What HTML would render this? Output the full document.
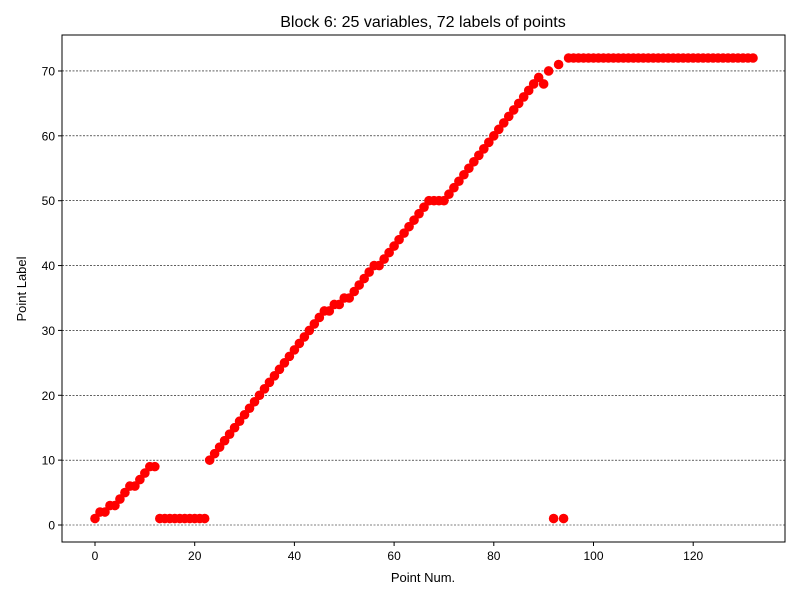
<!DOCTYPE html>
<html><head><meta charset="utf-8"><style>
body{margin:0;background:#fff;font-family:"Liberation Sans","DejaVu Sans",sans-serif}
</style></head><body>
<svg id="chart" width="800" height="600" xmlns="http://www.w3.org/2000/svg">
<rect width="800" height="600" fill="#fff"/>
<text x="423" y="27" font-size="16" text-anchor="middle">Block 6: 25 variables, 72 labels of points</text>
<g id="grid"></g><g id="ticks"></g><g id="points"></g>
<rect x="62" y="35" width="723" height="507" fill="none" stroke="#000" stroke-width="1"/>
<text x="423" y="582" font-size="13" text-anchor="middle">Point Num.</text>
<text x="26" y="289" font-size="13" text-anchor="middle" transform="rotate(-90 26 289)">Point Label</text>
</svg>
<script>
const labels=[1,2,2,3,3,4,5,6,6,7,8,9,9,1,1,1,1,1,1,1,1,1,1,10,11,12,13,14,15,16,17,18,19,20,21,22,23,24,25,26,27,28,29,30,31,32,33,33,34,34,35,35,36,37,38,39,40,40,41,42,43,44,45,46,47,48,49,50,50,50,50,51,52,53,54,55,56,57,58,59,60,61,62,63,64,65,66,67,68,69,68,70,1,71,1,72,72,72,72,72,72,72,72,72,72,72,72,72,72,72,72,72,72,72,72,72,72,72,72,72,72,72,72,72,72,72,72,72,72,72,72,72,72];
const xTicks=[0,20,40,60,80,100,120];
const yTicks=[0,10,20,30,40,50,60,70];
const NS="http://www.w3.org/2000/svg";
function xs(v){return 95+v*4.985;}
function ys(v){return 525-v*6.486;}
const g=document.getElementById('grid'),t=document.getElementById('ticks'),p=document.getElementById('points');
function mk(tag,a,par){const e=document.createElementNS(NS,tag);for(const k in a)e.setAttribute(k,a[k]);par.appendChild(e);return e;}
yTicks.forEach(v=>{
 const l=mk('line',{x1:62,x2:785,y1:ys(v),y2:ys(v),stroke:'#000','stroke-width':0.6,'stroke-dasharray':'2,1.5'},g);
 
 
 mk('line',{x1:58,x2:62,y1:ys(v),y2:ys(v),stroke:'#000'},t);
 const tx=mk('text',{x:55,y:ys(v)+4.5,'font-size':12,'text-anchor':'end'},t);tx.textContent=v;
 
 
});
xTicks.forEach(v=>{
 mk('line',{x1:xs(v),x2:xs(v),y1:542,y2:546,stroke:'#000'},t);
 const tx=mk('text',{x:xs(v),y:560,'font-size':12,'text-anchor':'middle'},t);tx.textContent=v;
 
 
});
labels.forEach((v,i)=>{
 const c=mk('circle',{cx:xs(i),cy:ys(v),r:4.8,fill:'#ff0000'},p);
 
 
});
</script>
</body></html>
